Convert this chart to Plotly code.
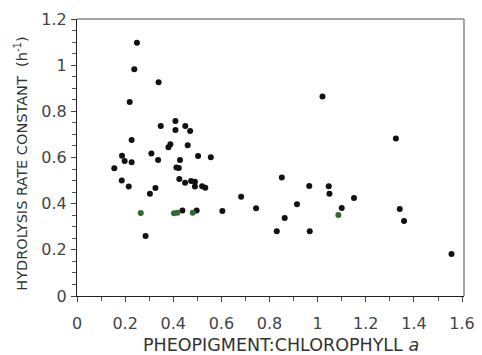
import plotly.graph_objects as go

black_x = [0.249, 0.238, 0.339, 0.219, 0.348, 0.409, 0.409, 0.450, 0.470, 0.227,
           0.388, 0.380, 0.460, 0.187, 0.309, 0.198, 0.227, 0.337, 0.428, 0.503,
           0.556, 0.155, 0.413, 0.423, 0.186, 0.425, 0.449, 0.474, 0.490, 0.490,
           0.520, 0.533, 0.215, 0.326, 0.303, 0.438, 0.497, 0.604, 0.285, 0.682,
           0.744, 0.830, 0.851, 0.863, 0.914, 0.965, 0.967, 1.020, 1.046, 1.049,
           1.100, 1.151, 1.325, 1.341, 1.359, 1.556]
black_y = [1.097, 0.982, 0.926, 0.840, 0.737, 0.758, 0.719, 0.737, 0.715, 0.676,
           0.657, 0.644, 0.653, 0.608, 0.617, 0.585, 0.579, 0.589, 0.589, 0.607,
           0.601, 0.553, 0.557, 0.555, 0.500, 0.507, 0.491, 0.498, 0.495, 0.474,
           0.475, 0.469, 0.474, 0.468, 0.443, 0.370, 0.370, 0.368, 0.260, 0.430,
           0.380, 0.280, 0.513, 0.338, 0.397, 0.477, 0.280, 0.864, 0.475, 0.443,
           0.381, 0.425, 0.682, 0.377, 0.325, 0.182]

green_x = [0.265, 0.403, 0.417, 0.481, 1.086]
green_y = [0.360, 0.358, 0.361, 0.361, 0.351]

x_tickvals = [0, 0.2, 0.4, 0.6, 0.8, 1.0, 1.2, 1.4, 1.6]
x_ticktext = ["0", "0.2", "0.4", "0.6", "0.8", "1", "1.2", "1.4", "1.6"]
y_tickvals = [0, 0.2, 0.4, 0.6, 0.8, 1.0, 1.2]
y_ticktext = ["0", "0.2", "0.4", "0.6", "0.8", "1", "1.2"]

FONT = "DejaVu Sans, Liberation Sans, sans-serif"

fig = go.Figure()
fig.add_trace(go.Scatter(x=black_x, y=black_y, mode="markers",
                         marker=dict(size=6, color="#111111"), showlegend=False))
fig.add_trace(go.Scatter(x=green_x, y=green_y, mode="markers",
                         marker=dict(size=6, color="#2f6a34"), showlegend=False))

axis_common = dict(showgrid=False, zeroline=False, showline=True, linecolor="#222",
                   linewidth=1, ticks="outside", ticklen=5, tickcolor="#444",
                   tickfont=dict(family=FONT, size=16, color="#444"),
                   minor=dict(ticks="outside", ticklen=4, tickcolor="#555"))

# the page body adds an 8px offset; figure sized to compensate
fig.update_layout(
    width=474, height=347,
    margin=dict(l=69, r=18, t=11, b=59),
    paper_bgcolor="white", plot_bgcolor="white",
    xaxis=dict(range=[0, 1.608], tickvals=x_tickvals, ticktext=x_ticktext,
               ticklabelstandoff=8, automargin=False, **axis_common),
    yaxis=dict(range=[0, 1.2], tickvals=y_tickvals, ticktext=y_ticktext,
               ticklabelstandoff=1, automargin=False, **axis_common),
    shapes=[
        dict(type="line", xref="paper", yref="paper", x0=0, x1=1, y0=1, y1=1,
             line=dict(color="#888", width=1.5)),
        dict(type="line", xref="paper", yref="paper", x0=1, x1=1, y0=0, y1=1,
             line=dict(color="#888", width=1.5)),
    ],
    annotations=[
        dict(text="PHEOPIGMENT:CHLOROPHYLL <i>a</i>", xref="paper", yref="paper",
             x=0.527, y=-0.177, xanchor="center", yanchor="middle", showarrow=False,
             font=dict(family=FONT, size=17.5, color="#333")),
        dict(text="HYDROLYSIS RATE CONSTANT  (h<sup>-1</sup>)", xref="paper", yref="paper",
             x=-0.145, y=0.477, xanchor="center", yanchor="middle", textangle=-90,
             showarrow=False, font=dict(family=FONT, size=14.5, color="#333")),
    ],
)

fig.write_html("out.html")
